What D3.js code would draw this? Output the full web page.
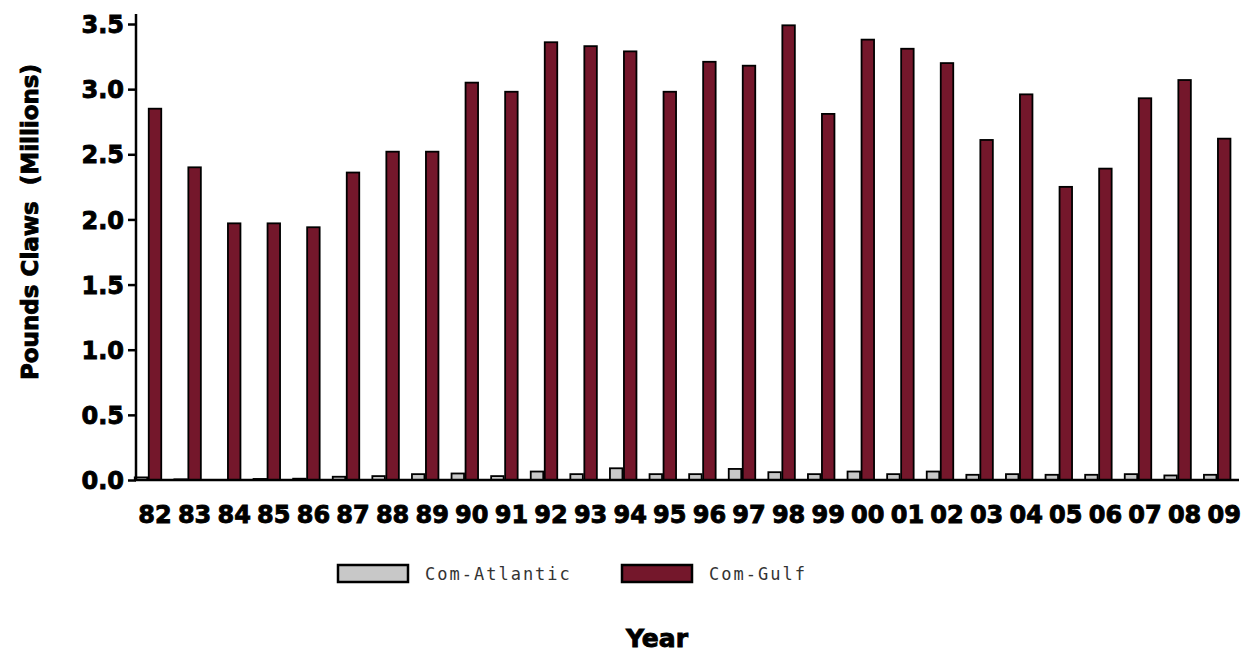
<!DOCTYPE html>
<html><head><meta charset="utf-8">
<script src="https://cdn.jsdelivr.net/npm/d3@7"></script>
<style>body{margin:0;background:#fff}</style>
</head><body>
<svg id="c" width="1251" height="653"></svg>
<script>
const years = ["82","83","84","85","86","87","88","89","90","91","92","93","94","95","96","97","98","99","00","01","02","03","04","05","06","07","08","09"];
const atlantic = [0.02,0.005,0.0,0.008,0.01,0.025,0.03,0.045,0.05,0.03,0.065,0.045,0.09,0.045,0.045,0.085,0.06,0.045,0.065,0.045,0.065,0.04,0.045,0.04,0.04,0.045,0.035,0.04];
const gulf = [2.85,2.40,1.97,1.97,1.94,2.36,2.52,2.52,3.05,2.98,3.36,3.33,3.29,2.98,3.21,3.18,3.49,2.81,3.38,3.31,3.20,2.61,2.96,2.25,2.39,2.93,3.07,2.62];
const yTicks = [0,0.5,1.0,1.5,2.0,2.5,3.0,3.5];
const seriesNames = ["Com-Atlantic","Com-Gulf"];
const colors = ["#c8c8c8","#74172b"];

const svg = d3.select("#c");
const y = d3.scaleLinear().domain([0,3.5]).range([480,24]);
const x = d3.scaleBand().domain(years).range([134,134+28*39.6]).padding(0);
const inner = d3.scaleBand().domain(seriesNames).range([0,28]).padding(0);

const data = years.map((yr,i)=>({yr, vals:[atlantic[i],gulf[i]]}));

const g = svg.append("g");
data.forEach(d=>{
  d.vals.forEach((v,k)=>{
    if(v<=0) return;
    g.append("rect")
      .attr("x", x(d.yr)+inner(seriesNames[k])+0.75)
      .attr("y", y(v))
      .attr("width", inner.bandwidth()-1.5)
      .attr("height", y(0)-y(v))
      .attr("fill", colors[k])
      .attr("stroke","#000")
      .attr("stroke-width",1.8);
  });
});

function heavy(sel){
  sel.attr("font-family","DejaVu Sans").attr("font-weight","bold").attr("fill","#000")
     .attr("stroke","#000").attr("stroke-width",0.9).attr("paint-order","stroke");
}

// y axis
const yAxis = d3.axisLeft(y).tickValues(yTicks).tickFormat(d3.format(".1f")).tickSize(8).tickSizeOuter(0);
const ya = svg.append("g").attr("transform","translate(136,0)").call(yAxis);
ya.select(".domain").attr("stroke","#000").attr("stroke-width",2.5).attr("d","M0,14V481");
ya.selectAll(".tick line").attr("stroke","#000").attr("stroke-width",2.5);
ya.selectAll(".tick text").attr("font-size",24).attr("x",-12).attr("dy","0.36em").call(heavy);

// x axis
const xAxis = d3.axisBottom(x).tickSize(0).tickSizeOuter(0);
const xa = svg.append("g").attr("transform","translate(0,480)").call(xAxis);
xa.select(".domain").attr("stroke","#000").attr("stroke-width",2.5).attr("d","M135,0H1239");
xa.selectAll(".tick").attr("transform",d=>`translate(${x(d)+21},0)`);
xa.selectAll(".tick text").attr("font-size",24).attr("y",26).attr("dy","0.71em").call(heavy);

// y title
svg.append("text").attr("transform","translate(38,222) rotate(-90)")
  .attr("text-anchor","middle").attr("font-size",23).attr("xml:space","preserve")
  .text("Pounds Claws  (Millions)").call(heavy);

// x title
svg.append("text").attr("x",657).attr("y",647).attr("text-anchor","middle")
  .attr("font-size",25).text("Year").call(heavy);

// legend
const legX = [338,622];
seriesNames.forEach((n,k)=>{
  svg.append("rect").attr("x",legX[k]).attr("y",565).attr("width",70).attr("height",17)
    .attr("fill",colors[k]).attr("stroke","#000").attr("stroke-width",2.5);
  svg.append("text").attr("x",legX[k]+87).attr("y",580).attr("font-family","DejaVu Sans Mono")
    .attr("font-size",17).attr("letter-spacing",2).attr("fill","#333").text(n);
});
</script>
</body></html>
